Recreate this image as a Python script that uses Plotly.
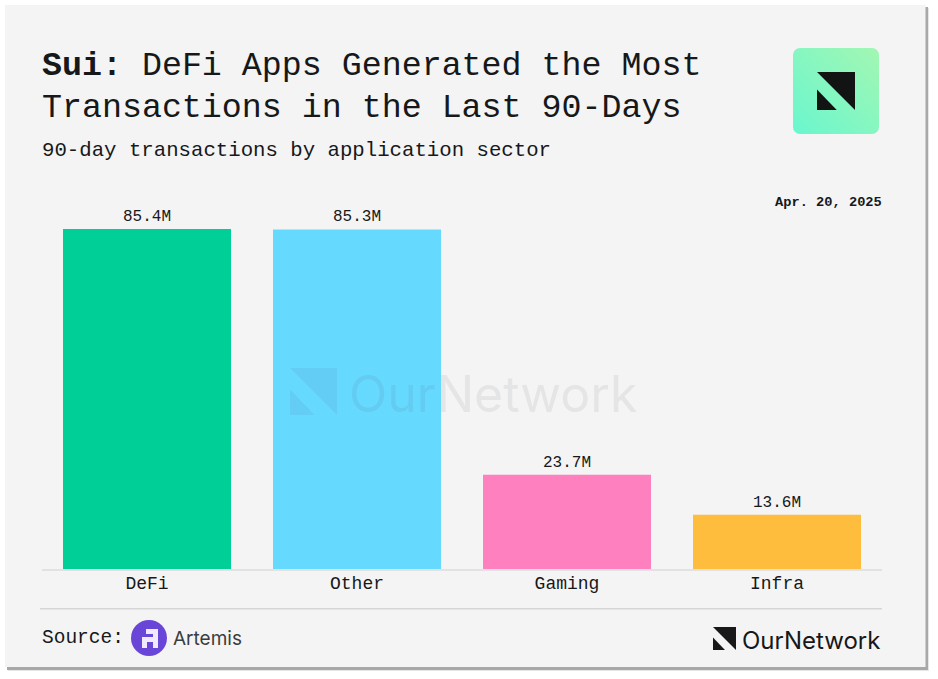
import base64
import plotly.graph_objects as go

# chart values
sectors = ['DeFi', 'Other', 'Gaming', 'Infra']
transactions = [85.4, 85.3, 23.7, 13.6]
bar_colors = ['#00CF98', '#66D9FF', '#FF80BF', '#FFBD3D']

W = 938
H = 679
MONO = 'Liberation Mono, DejaVu Sans Mono, monospace'
SANS = 'Inter, Noto Sans, sans-serif'
INK = '#16181a'


def px(x):
    return x / W


def py(y):
    return 1 - y / H


def rect(x0, y0, x1, y1, color, layer='below'):
    return dict(type='rect', xref='paper', yref='paper', x0=px(x0), x1=px(x1),
                y0=py(y0), y1=py(y1), fillcolor=color, line_width=0, layer=layer)


def poly(points, color, layer='above'):
    path = 'M ' + ' L '.join(f'{px(x):.5f},{py(y):.5f}' for x, y in points) + ' Z'
    return dict(type='path', xref='paper', yref='paper', path=path,
                fillcolor=color, line_width=0, layer=layer)


def label(text, x, y, size, color=INK, family=MONO, anchor='left'):
    return dict(text=text, xref='paper', yref='paper', x=px(x), y=py(y),
                xanchor=anchor, yanchor='middle', showarrow=False,
                font=dict(size=size, color=color, family=family),
                borderpad=0, borderwidth=0)


def logo_mark(x, y, size, color):
    # the two triangles of the OurNetwork mark, x/y is the top left corner
    big = [(x, y), (x + size, y), (x + size, y + size)]
    small = [(x, y + size * 0.46), (x + size * 0.52, y + size), (x, y + size)]
    return [poly(big, color), poly(small, color)]


fig = go.Figure()
fig.add_trace(go.Bar(
    x=sectors,
    y=transactions,
    marker=dict(color=bar_colors, line_width=0),
    text=[f'{v}M' for v in transactions],
    textposition='outside',
    textfont=dict(size=16, color=INK, family=MONO),
    cliponaxis=False,
    width=0.8,
))

shapes = [
    # drop shadow and card
    rect(8, 8, 929, 671, '#e6e6e6'),
    rect(7, 7, 928, 670, '#a8a8a8'),
    rect(5, 5, 925.5, 667, '#f4f4f4'),
    # divider above the footer
    rect(40, 608, 882, 609.5, '#d6d6d6'),
    # artemis badge
    dict(type='circle', xref='paper', yref='paper', x0=px(131), x1=px(167),
         y0=py(620), y1=py(656), fillcolor='#6a46d8', line_width=0, layer='above'),
    rect(146, 629, 158, 634, '#efeaff', 'above'),
    rect(153, 629, 158, 648, '#efeaff', 'above'),
    rect(142, 637, 158, 642, '#efeaff', 'above'),
    rect(142, 637, 147, 648, '#efeaff', 'above'),
]
shapes += logo_mark(817, 72, 38, '#111412')
shapes += logo_mark(713, 627, 23, '#16181a')
shapes += logo_mark(290, 368, 47, 'rgba(90,140,190,0.16)')

annotations = [
    label('<b>Sui:</b> DeFi Apps Generated the Most', 42, 66, 33.3),
    label('Transactions in the Last 90-Days', 42, 108, 33.3),
    label('90-day transactions by application sector', 42, 150.5, 20.7),
    label('<b>Apr. 20, 2025</b>', 882, 202, 13.7, anchor='right'),
    label('Source:', 42, 638, 19.5),
    label('Artemis', 173, 638, 19, color='#3a3d40', family=SANS),
    label('OurNetwork', 880, 640, 24, family=SANS, anchor='right'),
    label('OurNetwork', 349, 394, 50, color='rgba(90,100,120,0.10)', family=SANS),
]

# green tile behind the logo, svg because shapes have no gradient
tile_svg = (
    '<svg xmlns="http://www.w3.org/2000/svg" width="86" height="86">'
    '<defs><linearGradient id="g" x1="0" y1="1" x2="1" y2="0">'
    '<stop offset="0" stop-color="#6af6cf"/><stop offset="1" stop-color="#a2f7b2"/>'
    '</linearGradient></defs>'
    '<rect width="86" height="86" rx="7" fill="url(#g)"/></svg>'
)
tile_src = 'data:image/svg+xml;base64,' + base64.b64encode(tile_svg.encode()).decode()

fig.update_layout(
    width=W,
    height=H,
    margin=dict(l=0, r=0, t=0, b=0),
    paper_bgcolor='white',
    plot_bgcolor='rgba(0,0,0,0)',
    showlegend=False,
    xaxis=dict(
        domain=[px(42), px(882)],
        range=[-0.5, 3.5],
        showline=True,
        linecolor='#e2e2e2',
        linewidth=1.5,
        showgrid=False,
        ticks='',
        ticklabelstandoff=-3,
        tickfont=dict(size=18, color=INK, family=MONO),
    ),
    yaxis=dict(
        domain=[py(569), py(190)],
        range=[0, 95.2],
        visible=False,
    ),
    shapes=shapes,
    annotations=annotations,
    images=[dict(source=tile_src, xref='paper', yref='paper', x=px(793), y=py(48),
                 sizex=86 / W, sizey=86 / H, xanchor='left', yanchor='top',
                 sizing='stretch', layer='above')],
)

fig.write_html('out.html', config=dict(displayModeBar=False),
               post_script="document.body.style.margin='0';")
